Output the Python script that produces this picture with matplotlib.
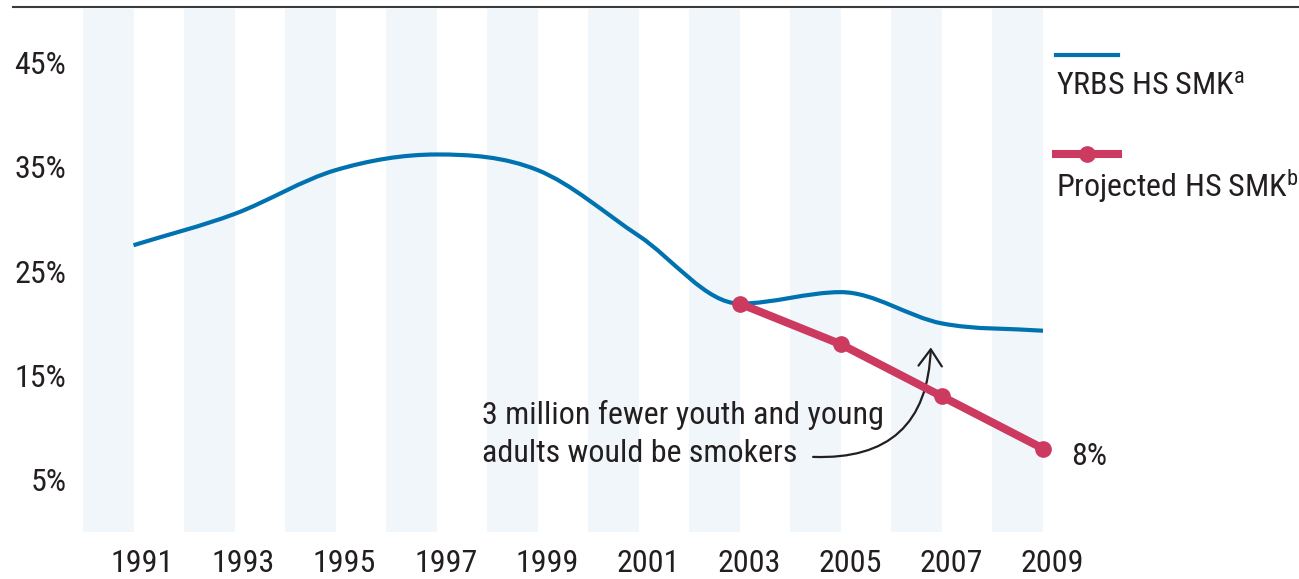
import numpy as np
import matplotlib
matplotlib.use("Agg")
import matplotlib.pyplot as plt
from matplotlib import font_manager
from matplotlib.path import Path
from matplotlib.patches import PathPatch
from matplotlib.lines import Line2D
import matplotlib.transforms as mtransforms

# --- data ---
years = [1991, 1993, 1995, 1997, 1999, 2001, 2003, 2005, 2007, 2009]
yrbs_smk = [27.5, 30.5, 34.7, 36.2, 34.7, 28.4, 21.9, 23.0, 20.0, 19.3]
proj_years = [2003, 2005, 2007, 2009]
proj_smk = [21.9, 18.0, 13.0, 8.0]
y_ticks = [5, 15, 25, 35, 45]
y_ticklabels = ["5%", "15%", "25%", "35%", "45%"]
x_ticklabels = [str(y) for y in years]

BLUE = "#0072B0"
RED = "#CC3A5F"
BAND = "#F1F6FB"
TXT = "#231F20"

# a narrow sans if one is there, Roboto otherwise
installed = {f.name for f in font_manager.fontManager.ttflist}
main_font = "Roboto"
for cand in ["Liberation Sans Narrow", "Roboto Condensed", "Open Sans Condensed"]:
    if cand in installed:
        main_font = cand
        break

plt.rcParams["font.family"] = [main_font, "DejaVu Sans"]
plt.rcParams["mathtext.fontset"] = "custom"
plt.rcParams["mathtext.rm"] = main_font
plt.rcParams["mathtext.it"] = main_font
FS = 23


def smooth_path(xs, ys):
    # smooth curve through the points, flat at local peaks/troughs
    xs = np.asarray(xs, float)
    ys = np.asarray(ys, float)
    h = np.diff(xs)
    d = np.diff(ys) / h
    m = np.zeros_like(ys)
    m[0], m[-1] = d[0], d[-1]
    for i in range(1, len(xs) - 1):
        if d[i - 1] * d[i] <= 0:
            m[i] = 0
        else:
            m[i] = (d[i - 1] + d[i]) / 2
    verts = [(xs[0], ys[0])]
    codes = [Path.MOVETO]
    for i in range(len(xs) - 1):
        dx = h[i] / 3
        verts += [(xs[i] + dx, ys[i] + m[i] * dx),
                  (xs[i + 1] - dx, ys[i + 1] - m[i + 1] * dx),
                  (xs[i + 1], ys[i + 1])]
        codes += [Path.CURVE4] * 3
    return Path(verts, codes)


fig = plt.figure(figsize=(12.99, 5.79), dpi=100)
ax = fig.add_axes([83 / 1299, 47 / 579, (1043 - 83) / 1299, 523 / 579])
ax.set_xlim(1990, 2009)
ax.set_ylim(0, 50.15)

# alternating bands, one for each odd year
for yr in years:
    ax.axvspan(yr - 1, yr, color=BAND, lw=0, zorder=0)

ax.add_patch(PathPatch(smooth_path(years, yrbs_smk), fc="none", ec=BLUE,
                       lw=3.0, capstyle="butt", zorder=3))
ax.plot(proj_years, proj_smk, color=RED, lw=5.8, marker="o", ms=11,
        solid_capstyle="round", zorder=4, clip_on=False)

for s in ax.spines.values():
    s.set_visible(False)
ax.tick_params(length=0, colors=TXT, labelsize=FS)
ax.set_yticks(y_ticks)
ax.set_yticklabels(y_ticklabels)
ax.tick_params(axis="y", pad=12)
ax.set_xticks(years)
ax.set_xticklabels(x_ticklabels)
ax.tick_params(axis="x", pad=12)
offset = mtransforms.ScaledTranslation(9 / 100, 0, fig.dpi_scale_trans)
for lbl in ax.get_xticklabels():
    lbl.set_transform(lbl.get_transform() + offset)

# annotation
ax.text(1997.9, 9.4, "3 million fewer youth and young\nadults would be smokers",
        fontsize=FS, color=TXT, va="center", ha="left", linespacing=1.4)
ax.annotate("", xy=(2006.78, 17.7), xytext=(2004.45, 7.2),
            arrowprops=dict(arrowstyle="->,head_length=0.5,head_width=0.35",
                            color=TXT, lw=1.6,
                            connectionstyle="arc3,rad=0.5",
                            mutation_scale=24, shrinkA=0, shrinkB=0))
ax.text(2009.55, 7.2, "8%", fontsize=FS, color=TXT, va="center", ha="left",
        clip_on=False)

# top rule
fig.add_artist(Line2D([13 / 1299, 1.0], [1 - 7 / 579] * 2, color="#3A3A3A", lw=1.5))

# legend, drawn by hand
fig.add_artist(Line2D([1056 / 1299, 1118 / 1299], [1 - 55 / 579] * 2, color=BLUE, lw=3.0))
fig.text(1056 / 1299, 1 - 86 / 579, "YRBS HS SMK$^{a}$", fontsize=FS, color=TXT, va="center")
fig.add_artist(Line2D([1056 / 1299, 1118 / 1299], [1 - 154 / 579] * 2, color=RED, lw=5.8))
fig.add_artist(Line2D([1087 / 1299], [1 - 154 / 579], color=RED, marker="o", ms=11, lw=0))
fig.text(1056 / 1299, 1 - 186 / 579, "Projected HS SMK$^{b}$", fontsize=FS, color=TXT, va="center")

fig.savefig("out.png", dpi=100)
